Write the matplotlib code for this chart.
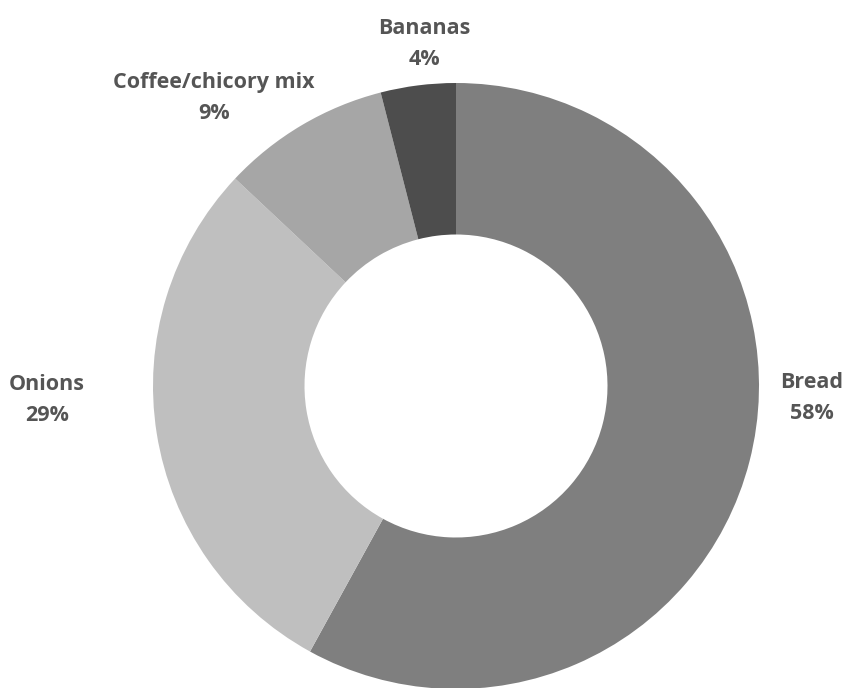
import matplotlib.pyplot as plt

# share of spending by item
labels = ['Bread', 'Onions', 'Coffee/chicory mix', 'Bananas']
shares = [58, 29, 9, 4]
colors = ['#7f7f7f', '#bfbfbf', '#a6a6a6', '#4d4d4d']

# label anchors in pixel space (x, y from top-left)
label_px = [(812, 398), (47, 400), (214, 98), (424, 44)]

W, H = 868, 688
CX, CY, R = 456, 386, 303

fig = plt.figure(figsize=(W / 100, H / 100), dpi=100)
ax = fig.add_axes([0, 0, 1, 1])
ax.pie(shares, colors=colors, startangle=90, counterclock=False,
       radius=1.0, wedgeprops=dict(width=0.5, edgecolor='none'))
ax.set_xlim(-CX / R, (W - CX) / R)
ax.set_ylim(-(H - CY) / R, CY / R)
ax.set_aspect('equal')
ax.axis('off')

for name, val, (px, py) in zip(labels, shares, label_px):
    ax.text((px - CX) / R, (CY - py) / R, f'{name}\n{val}%',
            ha='center', va='center', fontsize=15.5, fontweight='bold',
            family=['Open Sans', 'DejaVu Sans'], color='#555555',
            linespacing=1.6)

fig.savefig('out.png', dpi=100)
